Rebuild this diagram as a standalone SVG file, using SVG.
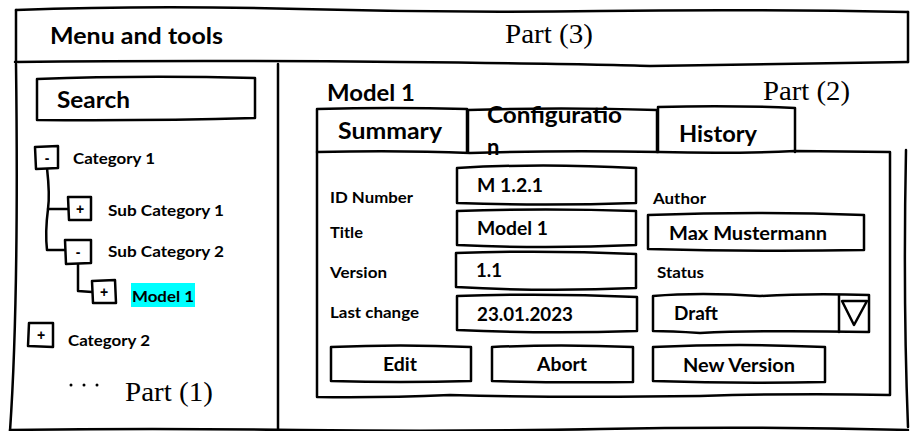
<svg xmlns="http://www.w3.org/2000/svg" width="910" height="431" viewBox="0 0 910 431">
<style>
.s{fill:none;stroke:#000;stroke-width:2.5;stroke-linejoin:round;stroke-linecap:round}
.w{fill:#fff;stroke:#000;stroke-width:2.5;stroke-linejoin:round;stroke-linecap:round}
.b{font-family:Lato,"Liberation Sans",sans-serif;font-weight:bold;fill:#000}
.p{font-family:"Liberation Serif","Times New Roman",serif;font-size:28px;fill:#000}
.sg{font-family:"Liberation Sans",sans-serif;font-weight:bold;font-size:14px;fill:#000;text-anchor:middle}
</style>
<rect width="910" height="431" fill="#fff"/>
<g id="frame">
<path class="s" d="M16,10 Q150,5 300,9 T600,11 T908,12"/>
<path class="s" d="M16,10 L16,62"/>
<path class="s" d="M908,12 L908,62"/>
<path class="s" d="M15,62 Q200,60 400,62 Q600,64 650,66 Q760,64 908,62"/>
<path class="s" d="M16,64 Q19,300 10,431"/>
<path class="s" d="M278,64 L278,431"/>
<path class="s" d="M906,150 Q903,300 908,427"/>
<path class="s" d="M10,430 Q150,428 300,430 T600,429 T908,430"/>
</g>
<g id="header">
<text class="b" x="50" y="44" font-size="22" textLength="173" lengthAdjust="spacingAndGlyphs">Menu and tools</text>
<text class="p" x="505" y="43" textLength="88" lengthAdjust="spacingAndGlyphs">Part (3)</text>
</g>
<g id="search">
<path class="w" d="M37,79 Q140,75 255,78 L255,118 Q150,121 37,120 Z"/>
<text class="b" x="57" y="108" font-size="22" textLength="73" lengthAdjust="spacingAndGlyphs">Search</text>
</g>
<g id="connectors">
<path class="s" d="M47,168 Q50,195 48,209 Q45,232 47,250 L65,250"/>
<path class="s" d="M48,209 L68,209"/>
<path class="s" d="M78,263 L78,291 L92,292"/>
</g>
<g id="category1">
<path class="w" d="M35,147 L58,146 L58,168 L36,169 Z"/>
<text class="sg" x="47" y="163">-</text>
<text class="b" x="73" y="164" font-size="16" textLength="82" lengthAdjust="spacingAndGlyphs">Category 1</text>
</g>
<g id="subcategory1">
<path class="w" d="M68,197 L91,197 L91,220 L69,220 Z"/>
<text class="sg" x="80" y="214">+</text>
<text class="b" x="108" y="216" font-size="16" textLength="116" lengthAdjust="spacingAndGlyphs">Sub Category 1</text>
</g>
<g id="subcategory2">
<path class="w" d="M65,240 L91,240 L91,263 L66,264 Z"/>
<text class="sg" x="78" y="257">-</text>
<text class="b" x="108" y="257" font-size="16" textLength="116" lengthAdjust="spacingAndGlyphs">Sub Category 2</text>
</g>
<g id="model1-tree">
<path class="w" d="M92,281 L115,280 L116,303 L93,303 Z"/>
<text class="sg" x="104" y="297">+</text>
<rect x="131" y="283" width="64" height="24" fill="#00ffff"/>
<text class="b" x="132" y="302" font-size="16" textLength="62" lengthAdjust="spacingAndGlyphs">Model 1</text>
</g>
<g id="category2">
<path class="w" d="M29,323 L53,323 L53,347 L28,346 Z"/>
<text class="sg" x="41" y="340">+</text>
<text class="b" x="68" y="346" font-size="16" textLength="82" lengthAdjust="spacingAndGlyphs">Category 2</text>
</g>
<g id="more">
<circle cx="71" cy="385" r="1.5"/>
<circle cx="84" cy="385" r="1.5"/>
<circle cx="97" cy="385" r="1.5"/>
<text class="p" x="125" y="401" textLength="88" lengthAdjust="spacingAndGlyphs">Part (1)</text>
</g>
<g id="model-title">
<text class="b" x="327" y="101" font-size="22" textLength="88" lengthAdjust="spacingAndGlyphs">Model 1</text>
<text class="p" x="763" y="100" textLength="87" lengthAdjust="spacingAndGlyphs">Part (2)</text>
</g>
<g id="tab-summary">
<path class="w" d="M317,152 L317,109 Q390,107 467,109 L467,152"/>
<text class="b" x="338" y="139" font-size="22" textLength="104" lengthAdjust="spacingAndGlyphs">Summary</text>
</g>
<g id="tab-configuration">
<path class="w" d="M468,152 L468,110 Q560,107 657,110 L657,152"/>
<text class="b" x="487" y="123" font-size="22" textLength="135" lengthAdjust="spacingAndGlyphs">Configuratio</text>
<text class="b" x="487" y="155" font-size="22">n</text>
</g>
<g id="tab-history">
<path class="w" d="M658,152 L658,107 Q730,105 795,108 L795,152"/>
<text class="b" x="679" y="142" font-size="22" textLength="78" lengthAdjust="spacingAndGlyphs">History</text>
</g>
<g id="panel">
<path class="s" d="M317,152 Q400,150 470,153 Q560,150 660,152 Q730,154 795,151 L890,152 L890,395 Q800,393 700,396 Q560,398 450,395 Q380,398 317,397 Z"/>
</g>
<g id="labels">
<text class="b" x="330" y="203" font-size="16" textLength="83" lengthAdjust="spacingAndGlyphs">ID Number</text>
<text class="b" x="330" y="238" font-size="16" textLength="33" lengthAdjust="spacingAndGlyphs">Title</text>
<text class="b" x="330" y="278" font-size="16" textLength="57" lengthAdjust="spacingAndGlyphs">Version</text>
<text class="b" x="330" y="318" font-size="16" textLength="89" lengthAdjust="spacingAndGlyphs">Last change</text>
<text class="b" x="653" y="204" font-size="16" textLength="53" lengthAdjust="spacingAndGlyphs">Author</text>
<text class="b" x="657" y="278" font-size="16" textLength="47" lengthAdjust="spacingAndGlyphs">Status</text>
</g>
<g id="field-id">
<path class="w" d="M457,168 Q540,163 636,168 L636,203 Q545,206 457,203 Z"/>
<text class="b" x="477" y="192" font-size="18.5" textLength="66" lengthAdjust="spacingAndGlyphs">M 1.2.1</text>
</g>
<g id="field-title">
<path class="w" d="M457,211 Q545,208 636,211 L636,245 Q545,249 457,245 Z"/>
<text class="b" x="477" y="235" font-size="18.5" textLength="71" lengthAdjust="spacingAndGlyphs">Model 1</text>
</g>
<g id="field-version">
<path class="w" d="M456,253 Q545,250 636,254 L636,288 Q545,292 456,287 Z"/>
<text class="b" x="476" y="277" font-size="18.5" textLength="26" lengthAdjust="spacingAndGlyphs">1.1</text>
</g>
<g id="field-lastchange">
<path class="w" d="M457,296 Q545,293 637,297 L637,331 Q545,334 457,330 Z"/>
<text class="b" x="477" y="321" font-size="19" textLength="96" lengthAdjust="spacingAndGlyphs">23.01.2023</text>
</g>
<g id="field-author">
<path class="w" d="M648,215 Q760,211 864,215 L864,250 Q760,252 648,249 Z"/>
<text class="b" x="669" y="240" font-size="18.5" textLength="158" lengthAdjust="spacingAndGlyphs">Max Mustermann</text>
</g>
<g id="field-status">
<path class="w" d="M653,296 Q700,292 760,296 Q810,293 869,295 L869,332 Q760,330 700,333 Q670,331 653,331 Z"/>
<path class="s" d="M839,295 L839,332"/>
<path class="s" d="M842,301 L867,301 L854,325 Z"/>
<text class="b" x="674" y="320" font-size="18" textLength="44" lengthAdjust="spacingAndGlyphs">Draft</text>
</g>
<g id="btn-edit">
<path class="w" d="M331,347 Q400,344 471,347 L471,381 Q400,383 331,381 Z"/>
<text class="b" x="383" y="371" font-size="19" textLength="34" lengthAdjust="spacingAndGlyphs">Edit</text>
</g>
<g id="btn-abort">
<path class="w" d="M492,347 Q560,344 633,347 L633,382 Q560,383 492,381 Z"/>
<text class="b" x="537" y="371" font-size="19" textLength="50" lengthAdjust="spacingAndGlyphs">Abort</text>
</g>
<g id="btn-newversion">
<path class="w" d="M653,347 Q740,343 825,347 L825,382 Q740,384 653,381 Z"/>
<text class="b" x="683" y="372" font-size="19" textLength="112" lengthAdjust="spacingAndGlyphs">New Version</text>
</g>
</svg>
